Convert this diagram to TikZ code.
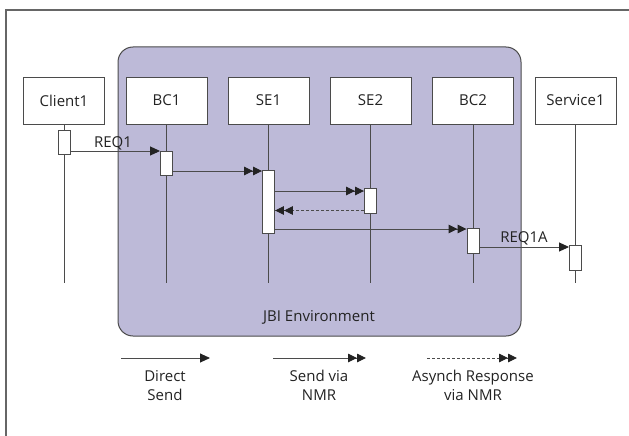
\documentclass[tikz,border=0pt]{standalone}
\usepackage{fontspec}
\setmainfont{Open Sans}
\usetikzlibrary{arrows.meta}
\definecolor{jbi}{RGB}{189,186,216}
\definecolor{ln}{RGB}{75,75,75}
\definecolor{tx}{RGB}{35,35,35}
\begin{document}
\begin{tikzpicture}[x=1pt,y=-1pt,
  every node/.style={font=\fontsize{15}{19}\selectfont, text=tx},
  actor/.style={draw=ln, fill=white, line width=0.9pt, minimum width=81pt, minimum height=47pt, inner sep=0pt},
  act/.style={draw=ln, fill=white, line width=0.9pt, minimum width=12pt, inner sep=0pt},
  life/.style={draw=ln, line width=0.9pt},
  msg/.style={draw=ln, line width=0.9pt, -{Triangle[length=10pt,width=9pt,fill=tx,color=tx]}},
  nmr/.style={draw=ln, line width=0.9pt, -{Triangle[length=9pt,width=8.5pt,fill=tx,color=tx] Triangle[length=9pt,width=8.5pt,fill=tx,color=tx]}},
  resp/.style={nmr, dash pattern=on 3pt off 2pt}
]
\useasboundingbox (0,0) rectangle (629,436);
\fill[white] (0,0) rectangle (629,436);
% outer frame (only top and left visible)
\draw[line width=1.5pt, draw=black!60] (6,437) -- (6,10) -- (630,10);
% JBI environment
\draw[fill=jbi, draw=ln, line width=1pt, rounded corners=15pt] (118,47) rectangle (521,336);
\node (jbi) at (319,317) {JBI Environment};
% actors
\node[actor] (c1) at (64,100.5) {Client1};
\node[actor] (bc1) at (166.5,100.5) {BC1};
\node[actor] (se1) at (268.5,100.5) {SE1};
\node[actor] (se2) at (370.5,100.5) {SE2};
\node[actor] (bc2) at (473,100.5) {BC2};
\node[actor] (s1) at (575.5,100.5) {Service1};
% lifeline ends
\foreach \n in {c1,bc1,se1,se2,bc2,s1}{
  \coordinate (\n e) at (\n.south |- 0,283);
  \draw[life] (\n.south) -- (\n e);
}
% activations
\node[act, minimum height=24pt] (ac1) at (64,142) {};
\node[act, minimum height=24pt] (abc1) at (166.5,163) {};
\node[act, minimum height=63pt] (ase1) at (268.5,201.5) {};
\node[act, minimum height=25pt] (ase2) at (370.5,200.5) {};
\node[act, minimum height=25pt] (abc2) at (473,240.5) {};
\node[act, minimum height=25pt] (as1) at (575.5,257.5) {};
% messages
\draw[msg] (ac1.east |- 0,151) -- (abc1.west |- 0,151);
\node[anchor=base] (req1) at (113,147) {REQ1};
\draw[nmr] (abc1.east |- 0,171) -- (ase1.west |- 0,171);
\draw[nmr] (ase1.east |- 0,191) -- (ase2.west |- 0,191);
\draw[resp] (ase2.west |- 0,210.5) -- (ase1.east |- 0,210.5);
\draw[nmr] (ase1.east |- 0,229) -- (abc2.west |- 0,229);
\draw[msg] (abc2.east |- 0,247) -- (as1.west |- 0,247);
\node[anchor=base] (req1a) at (524,242) {REQ1A};
% legend
\coordinate (l1a) at (121,358); \coordinate (l1b) at (210,358);
\coordinate (l2a) at (273,358); \coordinate (l2b) at (366,358);
\coordinate (l3a) at (427,358); \coordinate (l3b) at (517,358);
\draw[msg] (l1a) -- (l1b);
\draw[nmr] (l2a) -- (l2b);
\draw[resp] (l3a) -- (l3b);
\node[align=center, anchor=north, inner sep=0pt] (t1) at (165,370) {Direct\\Send};
\node[align=center, anchor=north, inner sep=0pt] (t2) at (319,370) {Send via\\NMR};
\node[align=center, anchor=north, inner sep=0pt] (t3) at (473,370) {Asynch Response\\via NMR};
\end{tikzpicture}
\end{document}
